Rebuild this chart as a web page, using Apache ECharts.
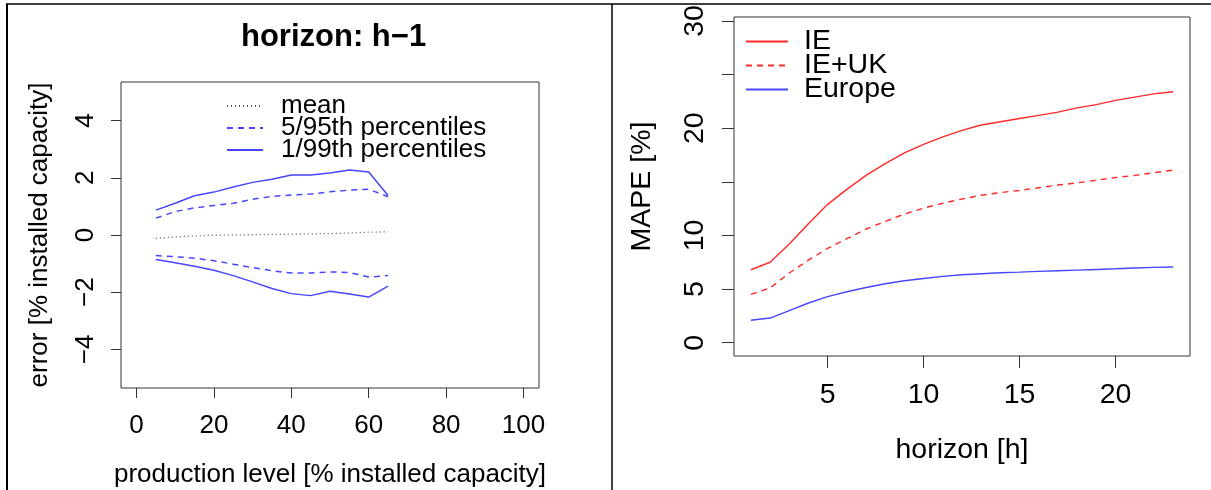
<!DOCTYPE html>
<html>
<head>
<meta charset="utf-8">
<script src="https://cdn.jsdelivr.net/npm/echarts@6/dist/echarts.min.js"></script>
<style>
html,body{margin:0;padding:0;background:#fff;}
#chart{width:1211px;height:490px;}
</style>
</head>
<body>
<div id="chart"></div>
<script>
// ---- Left panel data (horizon h-1) ----
const prodLevel = [5, 10, 15, 20, 25, 30, 35, 40, 45, 50, 55, 60, 65];
const meanErr   = [-0.12, -0.07, -0.03, -0.01, 0.00, 0.01, 0.02, 0.03, 0.04, 0.05, 0.07, 0.10, 0.11];
const p95       = [0.59, 0.82, 0.95, 1.03, 1.11, 1.25, 1.35, 1.40, 1.43, 1.51, 1.57, 1.60, 1.34];
const p05       = [-0.72, -0.76, -0.81, -0.90, -1.02, -1.14, -1.25, -1.33, -1.33, -1.29, -1.31, -1.47, -1.42];
const p99       = [0.87, 1.11, 1.37, 1.50, 1.68, 1.84, 1.95, 2.10, 2.10, 2.17, 2.27, 2.20, 1.38];
const p01       = [-0.86, -0.97, -1.09, -1.23, -1.42, -1.64, -1.87, -2.05, -2.12, -1.97, -2.06, -2.17, -1.79];
const leftXTicks = [0, 20, 40, 60, 80, 100];
const leftYTicks = [-4, -2, 0, 2, 4];

// ---- Right panel data (MAPE vs horizon) ----
const hours  = [1, 2, 3, 4, 5, 6, 7, 8, 9, 10, 11, 12, 13, 14, 15, 16, 17, 18, 19, 20, 21, 22, 23];
const mapeIE     = [6.8, 7.5, 9.2, 11.1, 12.9, 14.3, 15.6, 16.7, 17.7, 18.5, 19.2, 19.8, 20.3, 20.6, 20.9, 21.2, 21.5, 21.9, 22.2, 22.6, 22.9, 23.2, 23.4];
const mapeIEUK   = [4.5, 5.1, 6.5, 7.7, 8.8, 9.7, 10.6, 11.3, 12.0, 12.55, 13.0, 13.4, 13.75, 14.0, 14.2, 14.45, 14.7, 14.9, 15.15, 15.4, 15.6, 15.85, 16.1];
const mapeEurope = [2.1, 2.3, 3.0, 3.7, 4.3, 4.75, 5.15, 5.5, 5.78, 5.99, 6.18, 6.33, 6.43, 6.52, 6.58, 6.65, 6.71, 6.77, 6.83, 6.89, 6.96, 7.02, 7.06];
const rightXTicks = [5, 10, 15, 20];
const rightYTicks = [0, 5, 10, 15, 20, 25, 30];
const rightYLabels = [0, 5, 10, 20, 30];

const FONT = '"Liberation Sans", Arial, Helvetica, sans-serif';
const BLUE = '#4646ff';
const RED = '#ff2a2a';
const AXC = '#333';
const FS_L = 26;
const FS_R = 28.5;
const pairs = (xs, ys) => xs.map((x, i) => [x, ys[i]]);
const minus = v => String(v).replace('-', '\u2212');

const chart = echarts.init(document.getElementById('chart'), null, {renderer: 'canvas'});

const option = {
  backgroundColor: '#fff',
  animation: false,
  textStyle: {fontFamily: FONT},
  title: {
    text: 'horizon: h\u22121',
    left: 236, top: 17,
    textStyle: {fontSize: 31, fontWeight: 'bold', color: '#000', fontFamily: FONT}
  },
  grid: [
    {left: 121, top: 82, width: 418, height: 306, show: true, borderColor: AXC, borderWidth: 1, containLabel: false, outerBoundsMode: 'none'},
    {left: 734, top: 17, width: 456, height: 339, show: true, borderColor: AXC, borderWidth: 1, containLabel: false, outerBoundsMode: 'none'}
  ],
  xAxis: [
    {
      gridIndex: 0, type: 'value', min: -4, max: 104,
      name: 'production level [% installed capacity]', nameLocation: 'middle', nameGap: 74,
      nameTextStyle: {fontSize: FS_L, color: '#000', fontFamily: FONT},
      axisLine: {show: false, onZero: false},
      axisTick: {show: true, inside: false, length: 10, lineStyle: {color: AXC}, customValues: leftXTicks},
      axisLabel: {fontSize: FS_L, color: '#000', margin: 25, fontFamily: FONT, customValues: leftXTicks},
      splitLine: {show: false}
    },
    {
      gridIndex: 1, type: 'value', min: 0.12, max: 23.88,
      name: 'horizon [h]', nameLocation: 'middle', nameGap: 80,
      nameTextStyle: {fontSize: FS_R, color: '#000', fontFamily: FONT},
      axisLine: {show: false, onZero: false},
      axisTick: {show: true, inside: false, length: 12, lineStyle: {color: AXC}, customValues: rightXTicks},
      axisLabel: {fontSize: FS_R, color: '#000', margin: 25, fontFamily: FONT, customValues: rightXTicks},
      splitLine: {show: false}
    }
  ],
  yAxis: [
    {
      gridIndex: 0, type: 'value', min: -5.35, max: 5.35,
      name: 'error [% installed capacity]', nameLocation: 'middle', nameGap: 68, nameRotate: 90,
      nameTextStyle: {fontSize: FS_L, color: '#000', fontFamily: FONT},
      axisLine: {show: false, onZero: false},
      axisTick: {show: true, inside: false, length: 10, lineStyle: {color: AXC}, customValues: leftYTicks},
      axisLabel: {fontSize: FS_L, color: '#000', margin: 22, rotate: 90, fontFamily: FONT, customValues: leftYTicks, formatter: minus},
      splitLine: {show: false}
    },
    {
      gridIndex: 1, type: 'value', min: -1.24, max: 30.37,
      name: 'MAPE [%]', nameLocation: 'middle', nameGap: 77, nameRotate: 90,
      nameTextStyle: {fontSize: FS_R, color: '#000', fontFamily: FONT},
      axisLine: {show: false, onZero: false},
      axisTick: {show: true, inside: false, length: 12, lineStyle: {color: AXC}, customValues: rightYTicks},
      axisLabel: {fontSize: FS_R, color: '#000', margin: 24, rotate: 90, fontFamily: FONT, customValues: rightYLabels},
      splitLine: {show: false}
    }
  ],
  legend: [
    {
      left: 221, top: 88, orient: 'vertical', itemGap: -4, itemWidth: 36, itemHeight: 22,
      data: ['mean', '5/95th percentiles', '1/99th percentiles'],
      itemStyle: {opacity: 0, borderWidth: 0},
      textStyle: {fontSize: FS_L, color: '#000', fontFamily: FONT, padding: [0, 0, 0, 13]},
      selectedMode: false
    },
    {
      left: 740, top: 22, orient: 'vertical', itemGap: -5, itemWidth: 42, itemHeight: 23.5,
      data: ['IE', 'IE+UK', 'Europe'],
      itemStyle: {opacity: 0, borderWidth: 0},
      textStyle: {fontSize: FS_R, color: '#000', fontFamily: FONT, padding: [0, 0, 0, 11]},
      selectedMode: false
    }
  ],
  series: [
    {name: 'mean', type: 'line', xAxisIndex: 0, yAxisIndex: 0, data: pairs(prodLevel, meanErr), symbol: 'none',
     lineStyle: {color: '#555', width: 1.3, type: [1, 3]}, itemStyle: {color: '#555'}},
    {name: '5/95th percentiles', type: 'line', xAxisIndex: 0, yAxisIndex: 0, data: pairs(prodLevel, p95), symbol: 'none',
     lineStyle: {color: BLUE, width: 1.5, type: [6, 5]}, itemStyle: {color: BLUE}},
    {name: '5/95th percentiles', type: 'line', xAxisIndex: 0, yAxisIndex: 0, data: pairs(prodLevel, p05), symbol: 'none',
     lineStyle: {color: BLUE, width: 1.5, type: [6, 5]}, itemStyle: {color: BLUE}},
    {name: '1/99th percentiles', type: 'line', xAxisIndex: 0, yAxisIndex: 0, data: pairs(prodLevel, p99), symbol: 'none',
     lineStyle: {color: BLUE, width: 1.5}, itemStyle: {color: BLUE}},
    {name: '1/99th percentiles', type: 'line', xAxisIndex: 0, yAxisIndex: 0, data: pairs(prodLevel, p01), symbol: 'none',
     lineStyle: {color: BLUE, width: 1.5}, itemStyle: {color: BLUE}},
    {name: 'IE', type: 'line', xAxisIndex: 1, yAxisIndex: 1, data: pairs(hours, mapeIE), symbol: 'none',
     lineStyle: {color: RED, width: 1.4}, itemStyle: {color: RED}},
    {name: 'IE+UK', type: 'line', xAxisIndex: 1, yAxisIndex: 1, data: pairs(hours, mapeIEUK), symbol: 'none',
     lineStyle: {color: RED, width: 1.4, type: [6, 5]}, itemStyle: {color: RED}},
    {name: 'Europe', type: 'line', xAxisIndex: 1, yAxisIndex: 1, data: pairs(hours, mapeEurope), symbol: 'none',
     lineStyle: {color: BLUE, width: 1.4}, itemStyle: {color: BLUE}}
  ],
  graphic: [
    {type: 'line', silent: true, shape: {x1: 6, y1: 4, x2: 1211, y2: 4}, style: {stroke: '#000', lineWidth: 1.5}},
    {type: 'line', silent: true, shape: {x1: 7, y1: 4, x2: 7, y2: 490}, style: {stroke: '#000', lineWidth: 2}},
    {type: 'line', silent: true, shape: {x1: 612, y1: 4, x2: 612, y2: 490}, style: {stroke: '#000', lineWidth: 1.5}}
  ]
};
chart.setOption(option);
</script>
</body>
</html>
